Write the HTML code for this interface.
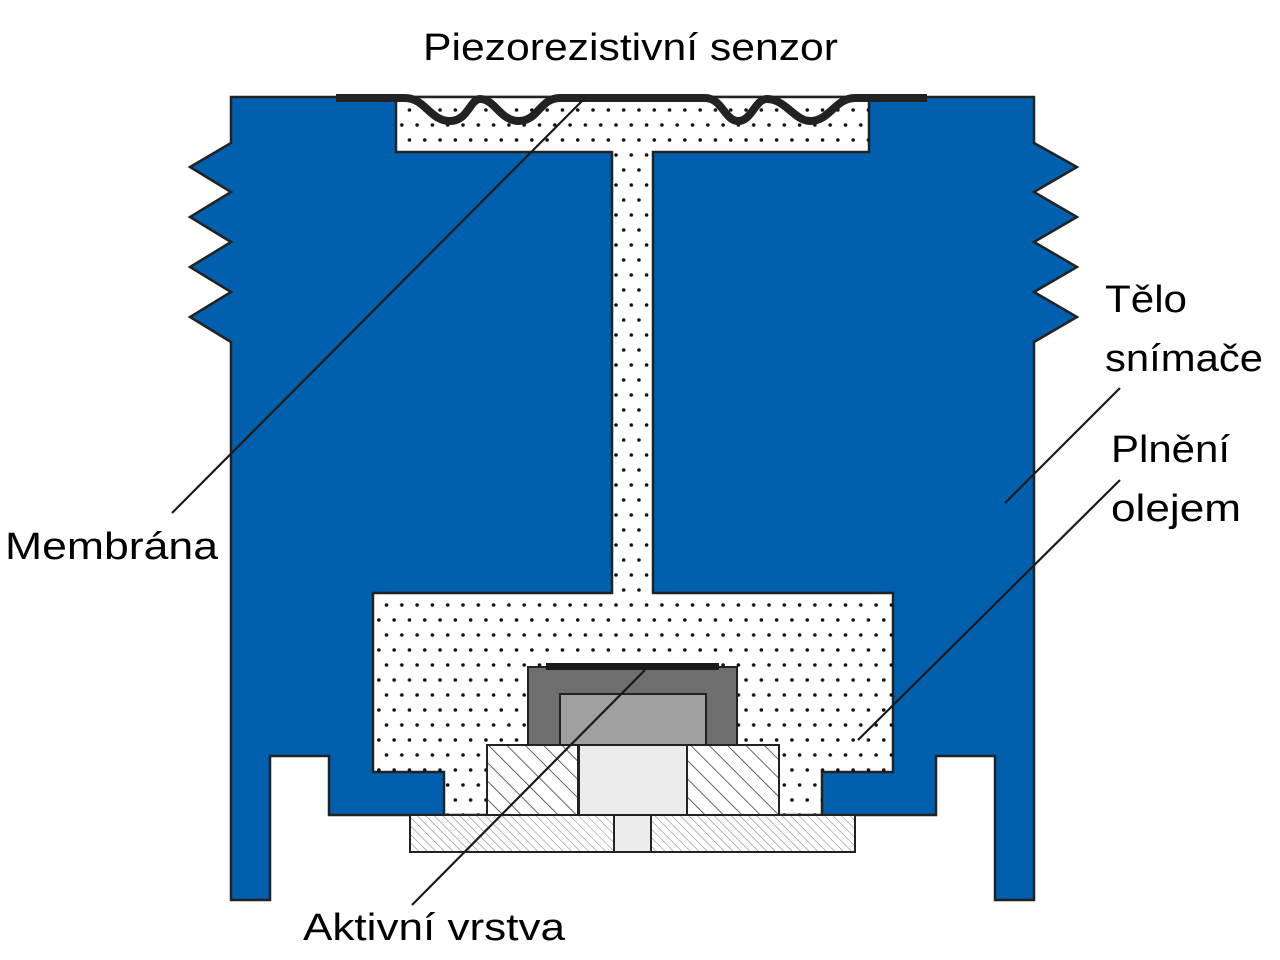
<!DOCTYPE html>
<html><head><meta charset="utf-8"><style>
html,body{margin:0;padding:0;background:#fff;}
svg{display:block}
text{font-family:"Liberation Sans",sans-serif;font-size:38px;fill:#000}
</style></head><body>
<svg width="1280" height="960" viewBox="0 0 1280 960" xmlns="http://www.w3.org/2000/svg">
<defs>
<pattern id="dots" x="0" y="0" width="15.3" height="30" patternUnits="userSpaceOnUse">
<circle cx="4" cy="5" r="1.8" fill="#111"/>
<circle cx="11.65" cy="20" r="1.8" fill="#111"/>
</pattern>
<pattern id="hatch" width="13" height="13" patternUnits="userSpaceOnUse" patternTransform="rotate(-45)">
<line x1="0" y1="0" x2="0" y2="13" stroke="#222" stroke-width="1.4"/>
</pattern>
<pattern id="fine" width="6" height="6" patternUnits="userSpaceOnUse" patternTransform="rotate(-45)">
<line x1="0" y1="0" x2="0" y2="6" stroke="#555" stroke-width="0.8"/>
</pattern>
</defs>
<rect width="1280" height="960" fill="#fff"/>
<path d="M231,97 L1034,97 L1034,143 L1077,167 L1034,192 L1077,217 L1034,242 L1077,267 L1034,292 L1077,317 L1034,342 L1034,900 L995,900 L995,756 L936,756 L936,815 L329,815 L329,756 L270,756 L270,900 L231,900 L231,342 L190,317 L231,292 L190,267 L231,242 L190,217 L231,192 L190,167 L231,143 Z" fill="#0060ad" stroke="#222" stroke-width="2.5" stroke-linejoin="miter"/>
<path d="M396,97 H869 V152 H653 V593 H893 V772 H822 V815 H444 V772 H373 V593 H612 V152 H396 Z" fill="#fff" stroke="#222" stroke-width="2.5"/>
<path d="M396,97 H869 V152 H653 V593 H893 V772 H822 V815 H444 V772 H373 V593 H612 V152 H396 Z" fill="url(#dots)"/>
<path d="M336,98 H405 C425,98 430,121 450,121 C468,121 470,99 480,99 C495,99 500,121 519,121 C538,121 540,98 560,98 H705 C722,98 725,121 738,121 C752,121 755,99 767,99 C785,99 795,121 810,121 C830,121 835,98 855,98 H927" fill="none" stroke="#222" stroke-width="8"/>
<rect x="528" y="667" width="209" height="78" fill="#6e6e6e" stroke="#222" stroke-width="2"/>
<rect x="560" y="694" width="146" height="51" fill="#a0a0a0" stroke="#222" stroke-width="2"/>
<rect x="546" y="663" width="173" height="7" fill="#1a1a1a"/>
<rect x="487" y="745" width="91" height="70" fill="#fff" stroke="#222" stroke-width="2"/>
<rect x="487" y="745" width="91" height="70" fill="url(#hatch)" stroke="#222" stroke-width="2"/>
<rect x="687" y="745" width="92" height="70" fill="#fff" stroke="#222" stroke-width="2"/>
<rect x="687" y="745" width="92" height="70" fill="url(#hatch)" stroke="#222" stroke-width="2"/>
<rect x="579" y="745" width="108" height="70" fill="#ececec" stroke="#222" stroke-width="2"/>
<rect x="410" y="815" width="445" height="37" fill="#fff" stroke="#222" stroke-width="2"/>
<rect x="410" y="815" width="445" height="37" fill="url(#fine)" stroke="#222" stroke-width="2"/>
<rect x="614" y="815" width="37" height="37" fill="#ececec" stroke="#222" stroke-width="2"/>
<g stroke="#1a1a1a" stroke-width="2.2" fill="none">
<line x1="172" y1="513" x2="585" y2="98"/>
<line x1="1120" y1="388" x2="1005" y2="503"/>
<line x1="1120" y1="480" x2="858" y2="740"/>
<line x1="412" y1="905" x2="645" y2="670"/>
</g>
<text x="423" y="60" textLength="415" lengthAdjust="spacingAndGlyphs">Piezorezistivní senzor</text>
<text x="1105" y="312" textLength="82" lengthAdjust="spacingAndGlyphs">Tělo</text>
<text x="1105" y="371" textLength="158" lengthAdjust="spacingAndGlyphs">snímače</text>
<text x="1111" y="462" textLength="119" lengthAdjust="spacingAndGlyphs">Plnění</text>
<text x="1111" y="521" textLength="130" lengthAdjust="spacingAndGlyphs">olejem</text>
<text x="5" y="559" textLength="213" lengthAdjust="spacingAndGlyphs">Membrána</text>
<text x="303" y="940" textLength="262" lengthAdjust="spacingAndGlyphs">Aktivní vrstva</text>
</svg>
</body></html>
